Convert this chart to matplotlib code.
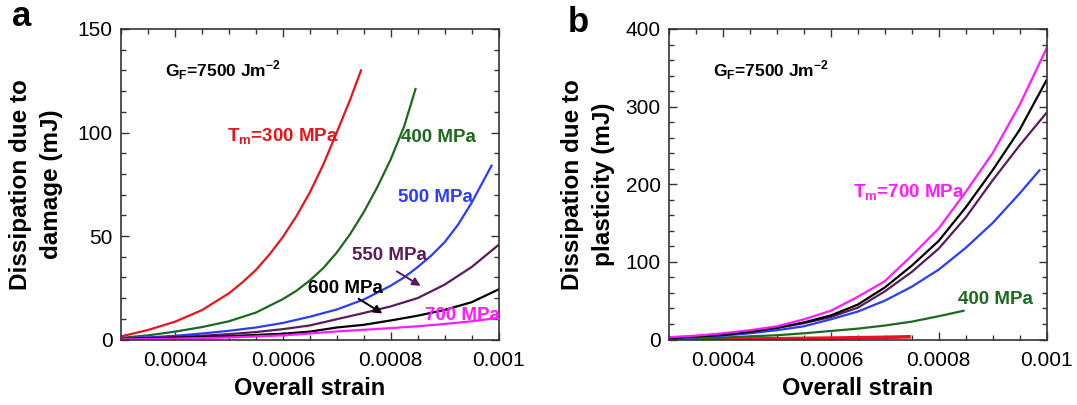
import matplotlib
matplotlib.use("Agg")
import matplotlib.pyplot as plt
from matplotlib.ticker import MultipleLocator, FixedLocator

plt.rcParams["font.family"] = ["Liberation Sans", "DejaVu Sans"]
plt.rcParams["mathtext.fontset"] = "custom"
plt.rcParams["mathtext.rm"] = "Liberation Sans"
plt.rcParams["mathtext.bf"] = "Liberation Sans:bold"

# strain points for each curve
x_full = [0.0003, 0.00035, 0.0004, 0.00045, 0.0005, 0.00055, 0.0006, 0.00065,
          0.0007, 0.00075, 0.0008, 0.00085, 0.0009, 0.00095, 0.001]
x_300 = [0.0003, 0.00035, 0.0004, 0.00045, 0.0005, 0.000525, 0.00055, 0.000575,
         0.0006, 0.000625, 0.00065, 0.000675, 0.0007, 0.000725, 0.000745]
x_400 = [0.0003, 0.00035, 0.0004, 0.00045, 0.0005, 0.00055, 0.0006, 0.000625,
         0.00065, 0.000675, 0.0007, 0.000725, 0.00075, 0.000775, 0.0008,
         0.000825, 0.000846]
x_500 = [0.0003, 0.00035, 0.0004, 0.00045, 0.0005, 0.00055, 0.0006, 0.00065,
         0.0007, 0.00075, 0.0008, 0.000825, 0.00085, 0.000875, 0.0009,
         0.000925, 0.00095, 0.000987]

# plasticity curves share the coarse grid
xp_300 = [0.0003, 0.00035, 0.0004, 0.00045, 0.0005, 0.00055, 0.0006, 0.00065,
          0.0007, 0.000745]
xp_400 = [0.0003, 0.00035, 0.0004, 0.00045, 0.0005, 0.00055, 0.0006, 0.00065,
          0.0007, 0.00075, 0.0008, 0.000846]
xp_500 = [0.0003, 0.00035, 0.0004, 0.00045, 0.0005, 0.00055, 0.0006, 0.00065,
          0.0007, 0.00075, 0.0008, 0.00085, 0.0009, 0.00095, 0.000987]

# (a) dissipation due to damage, mJ
dmg_300 = [1.5, 4.6, 8.6, 14.2, 22.3, 27.6, 33.6, 41, 49.5, 59.5, 71, 84.5,
           100, 116, 130]
dmg_400 = [0.8, 2, 3.8, 6, 8.8, 13, 19.5, 23.5, 28.5, 34.5, 42, 51, 61.5,
           73.5, 87, 103, 121]
dmg_500 = [0.5, 1, 1.8, 2.9, 4.2, 5.8, 8, 11, 14.5, 19.3, 26, 30, 35, 40.5,
           47, 55.5, 66, 84]
dmg_550 = [0.3, 0.7, 1.2, 1.8, 2.6, 3.6, 5, 6.8, 9.8, 12.8, 16, 20, 26.5, 35, 45.7]
dmg_600 = [0.2, 0.5, 0.8, 1.2, 1.6, 2.2, 2.8, 3.8, 5.8, 7.1, 9.2, 11.5, 14.3, 18, 24.2]
dmg_700 = [0.1, 0.2, 0.4, 0.7, 1, 1.5, 2, 2.9, 3.9, 4.7, 5.5, 6.4, 7.5, 8.8, 10.5]

# (b) dissipation due to plasticity, mJ
pl_300 = [0.2, 0.3, 0.5, 0.7, 1, 1.4, 1.8, 2.3, 2.8, 3.5]
pl_400 = [0.5, 1.5, 2.5, 4, 5.5, 8, 11, 14, 18, 23, 30, 37]
pl_500 = [1.5, 3, 5, 8, 12, 17, 26, 36, 50, 68, 90, 118, 150, 188, 218]
pl_550 = [2, 4, 6, 10, 15, 21, 29, 41, 62, 87, 117, 157, 205, 250, 292]
pl_600 = [2, 4, 6, 10, 15, 22, 31, 45, 67, 95, 127, 170, 218, 270, 334]
pl_700 = [3, 5, 8, 12, 17, 26, 37, 55, 75, 108, 143, 190, 240, 302, 375]

x_ticks = [0.0004, 0.0006, 0.0008, 0.001]
x_tick_labels = ["0.0004", "0.0006", "0.0008", "0.001"]

red = "#e8141c"
green = "#1c6a1c"
blue = "#2a3cff"
purple = "#5a1a5c"
black = "#000000"
magenta = "#ff1aff"

gf_text = r"G$_{\mathbf{F}}$=7500 Jm$^{\mathbf{-2}}$"

fig = plt.figure(figsize=(10.77, 4.05), dpi=100)
ax1 = fig.add_axes([0.1124, 0.1617, 0.3505, 0.7667])
ax2 = fig.add_axes([0.6212, 0.1617, 0.3505, 0.7667])


def style_axes(ax, ymax, ymajor, yminor):
    ax.set_xlim(0.0003, 0.001)
    ax.set_ylim(0, ymax)
    ax.xaxis.set_major_locator(FixedLocator(x_ticks))
    ax.set_xticklabels(x_tick_labels)
    ax.xaxis.set_minor_locator(MultipleLocator(0.00005))
    ax.yaxis.set_major_locator(MultipleLocator(ymajor))
    ax.yaxis.set_minor_locator(MultipleLocator(yminor))
    ax.tick_params(which="both", direction="in", top=True, right=True,
                   colors="#333333", labelcolor="black", labelsize=15)
    ax.tick_params(which="major", length=6, width=1)
    ax.tick_params(which="minor", length=3.6, width=1)
    ax.tick_params(axis="x", pad=8)
    ax.tick_params(axis="y", pad=6)
    for s in ax.spines.values():
        s.set_color("#333333")
        s.set_linewidth(1.2)
    ax.set_xlabel("Overall strain", fontsize=17, fontweight="bold", labelpad=5)


lw = 1.6
ax1.plot(x_300, dmg_300, color=red, lw=lw)
ax1.plot(x_400, dmg_400, color=green, lw=lw)
ax1.plot(x_500, dmg_500, color=blue, lw=lw)
ax1.plot(x_full, dmg_550, color=purple, lw=lw)
ax1.plot(x_full, dmg_600, color=black, lw=lw)
ax1.plot(x_full, dmg_700, color=magenta, lw=lw)
style_axes(ax1, 150, 50, 10)

lbl = dict(fontsize=13.5, fontweight="bold", va="center", ha="left")
ax1.text(0.000381, 130.2, gf_text, fontsize=12.5, fontweight="bold", va="center")
ax1.text(0.000497, 97.8, r"T$_{\mathbf{m}}$=300 MPa", color=red, **lbl)
ax1.text(0.00082, 97.7, "400 MPa", color=green, **lbl)
ax1.text(0.000813, 68.8, "500 MPa", color=blue, **lbl)
ax1.text(0.000729, 40.8, "550 MPa", color=purple, **lbl)
ax1.text(0.000646, 24.7, "600 MPa", color=black, **lbl)
ax1.text(0.000863, 11.8, "700 MPa", color=magenta, **lbl)
ax1.annotate("", xy=(0.00086, 25.2), xytext=(0.000807, 33.6),
             arrowprops=dict(arrowstyle="-|>", color=purple, lw=1.4,
                             mutation_scale=12))
ax1.annotate("", xy=(0.000789, 11.9), xytext=(0.000736, 20.4),
             arrowprops=dict(arrowstyle="-|>", color=black, lw=1.4,
                             mutation_scale=12))

ax2.plot(xp_300, pl_300, color=red, lw=2.6)
ax2.plot(xp_400, pl_400, color=green, lw=lw)
ax2.plot(xp_500, pl_500, color=blue, lw=lw)
ax2.plot(x_full, pl_550, color=purple, lw=lw)
ax2.plot(x_full, pl_600, color=black, lw=lw)
ax2.plot(x_full, pl_700, color=magenta, lw=lw)
style_axes(ax2, 400, 100, 20)

ax2.text(0.000382, 347.2, gf_text, fontsize=12.5, fontweight="bold", va="center")
ax2.text(0.000641, 188.7, r"T$_{\mathbf{m}}$=700 MPa", color=magenta, **lbl)
ax2.text(0.000836, 50.9, "400 MPa", color=green, **lbl)

# y labels as two centred lines, placed in figure pixels
fig.text(36 / 1077, 0.544, "Dissipation due to\ndamage (mJ)", rotation=90,
         ha="center", va="center", multialignment="center",
         fontsize=17.5, fontweight="bold", linespacing=1.4)
fig.text(588 / 1077, 0.544, "Dissipation due to\nplasticity (mJ)", rotation=90,
         ha="center", va="center", multialignment="center",
         fontsize=17.5, fontweight="bold", linespacing=1.4)

fig.text(22 / 1077, 1 - 17 / 405, "a", fontsize=25, fontweight="bold",
         ha="center", va="center")
fig.text(578 / 1077, 1 - 22 / 405, "b", fontsize=25, fontweight="bold",
         ha="center", va="center")

fig.savefig("out.png", dpi=100)
